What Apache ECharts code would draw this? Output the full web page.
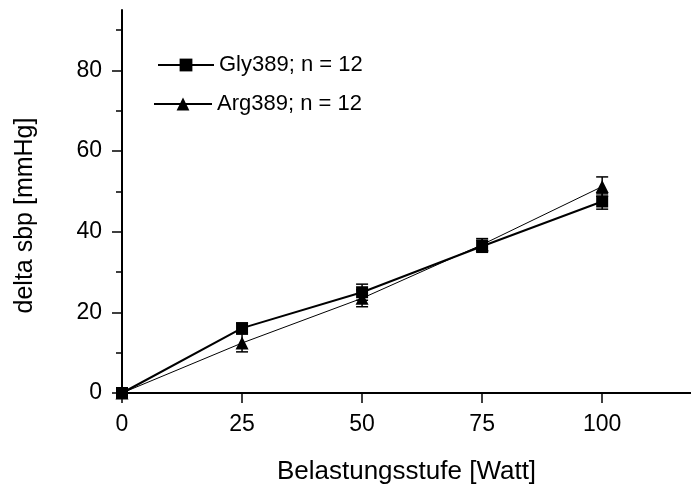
<!DOCTYPE html>
<html>
<head>
<meta charset="utf-8">
<script src="https://cdn.jsdelivr.net/npm/echarts@6/dist/echarts.min.js"></script>
<style>
  html, body { margin: 0; padding: 0; background: #fff; }
  #chart { width: 691px; height: 490px; }
</style>
</head>
<body>
<div id="chart"></div>
<script>
const watt = [0, 25, 50, 75, 100];
const glyMean = [0, 16.1, 25, 36.4, 47.5];
const glyErr = [0, 1.2, 2.0, 1.5, 1.9];
const argMean = [0, 12.4, 23.5, 36.8, 51.2];
const argErr = [0, 2.2, 2.1, 1.5, 2.4];
const xTicks = [0, 25, 50, 75, 100];
const yTicks = [0, 20, 40, 60, 80];
const glyName = 'Gly389; n = 12';
const argName = 'Arg389; n = 12';

const font = '"Liberation Sans", Arial, sans-serif';

const chart = echarts.init(document.getElementById('chart'));

function points(mean) {
  return watt.map((x, i) => [x, mean[i]]);
}
function bars(mean, err) {
  return watt.map((x, i) => [x, mean[i] - err[i], mean[i] + err[i]]);
}
function renderBar(params, api) {
  const hi = api.coord([api.value(0), api.value(2)]);
  const lo = api.coord([api.value(0), api.value(1)]);
  const w = 6;
  const style = { stroke: '#000', lineWidth: 1.5 };
  return {
    type: 'group',
    children: [
      { type: 'line', shape: { x1: hi[0], y1: hi[1], x2: lo[0], y2: lo[1] }, style },
      { type: 'line', shape: { x1: hi[0] - w, y1: hi[1], x2: hi[0] + w, y2: hi[1] }, style },
      { type: 'line', shape: { x1: lo[0] - w, y1: lo[1], x2: lo[0] + w, y2: lo[1] }, style }
    ]
  };
}

const option = {
  animation: false,
  backgroundColor: '#fff',
  textStyle: { fontFamily: font, color: '#000' },
  grid: { left: 122, right: 0, top: 10, bottom: 97, outerBoundsMode: 'none', containLabel: false },
  legend: [
    {
      data: [glyName],
      left: 152, top: 49,
      itemWidth: 56, itemHeight: 16,
      textStyle: { fontSize: 22, color: '#000', fontFamily: font }
    },
    {
      data: [argName],
      left: 148, top: 88,
      itemWidth: 58, itemHeight: 16,
      textStyle: { fontSize: 22, color: '#000', fontFamily: font }
    }
  ],
  xAxis: {
    type: 'value',
    min: 0,
    max: 118.5,
    interval: 25,
    name: 'Belastungsstufe [Watt]',
    nameLocation: 'middle',
    nameGap: 66,
    nameTextStyle: { fontSize: 26, color: '#000', fontFamily: font },
    axisLine: { onZero: false, lineStyle: { color: '#000', width: 2 } },
    axisTick: { length: 10, customValues: xTicks, lineStyle: { color: '#000', width: 1.5 } },
    axisLabel: { fontSize: 23, color: '#000', margin: 20, fontFamily: font, customValues: xTicks },
    splitLine: { show: false }
  },
  yAxis: {
    type: 'value',
    min: 0,
    max: 95,
    interval: 20,
    name: 'delta sbp [mmHg]',
    nameLocation: 'middle',
    nameGap: 84,
    nameTextStyle: { fontSize: 25, color: '#000', fontFamily: font, padding: [0, 28, 0, 0] },
    axisLine: { show: true, onZero: false, lineStyle: { color: '#000', width: 2 } },
    axisTick: { show: true, length: 10, customValues: yTicks, lineStyle: { color: '#000', width: 1.5 } },
    minorTick: { show: true, splitNumber: 2, length: 6, lineStyle: { color: '#000', width: 1.5 } },
    axisLabel: { fontSize: 23, color: '#000', margin: 20, fontFamily: font, customValues: yTicks },
    splitLine: { show: false }
  },
  series: [
    {
      type: 'custom',
      renderItem: renderBar,
      data: bars(argMean, argErr),
      encode: { x: 0, y: [1, 2] },
      z: 1,
      silent: true
    },
    {
      type: 'custom',
      renderItem: renderBar,
      data: bars(glyMean, glyErr),
      encode: { x: 0, y: [1, 2] },
      z: 1,
      silent: true
    },
    {
      name: argName,
      type: 'line',
      data: points(argMean),
      symbol: 'triangle',
      symbolSize: 13,
      itemStyle: { color: '#000' },
      lineStyle: { color: '#000', width: 1 },
      z: 3
    },
    {
      name: glyName,
      type: 'line',
      data: points(glyMean),
      symbol: 'rect',
      symbolSize: 12,
      itemStyle: { color: '#000' },
      lineStyle: { color: '#000', width: 2 },
      z: 4
    }
  ]
};

chart.setOption(option);
</script>
</body>
</html>
